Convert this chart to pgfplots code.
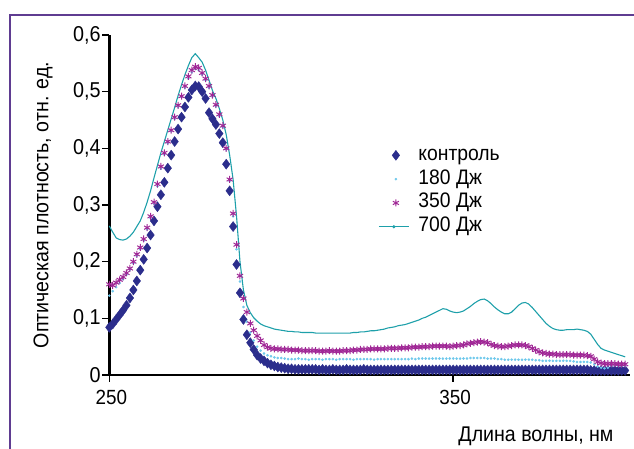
\documentclass[border=0pt]{standalone}
\usepackage{fontspec}
\setmainfont{Liberation Sans}[FakeStretch=0.92]
\usepackage{pgfplots}
\usepackage{pgfplotstable}
\pgfplotsset{compat=1.18}

\definecolor{frameviolet}{RGB}{95,60,145}
\definecolor{ctrl}{RGB}{43,45,140}
\definecolor{j180}{RGB}{110,200,235}
\definecolor{j350}{RGB}{160,40,150}
\definecolor{j700}{RGB}{30,160,170}

% wavelength (nm) and optical density: control, 180 J, 350 J, 700 J
\pgfplotstableread{
x C L M T
250 0.084 0.140 0.160 0.263
251 0.090 0.148 0.158 0.252
252 0.098 0.155 0.163 0.242
253 0.106 0.162 0.168 0.239
254 0.114 0.169 0.173 0.238
255 0.123 0.177 0.180 0.240
256 0.136 0.186 0.188 0.245
257 0.150 0.197 0.200 0.252
258 0.166 0.210 0.213 0.262
259 0.185 0.222 0.225 0.272
260 0.204 0.237 0.240 0.287
261 0.224 0.257 0.260 0.305
262 0.247 0.277 0.280 0.325
263 0.272 0.302 0.305 0.348
264 0.297 0.333 0.337 0.370
265 0.318 0.364 0.368 0.392
266 0.340 0.389 0.392 0.412
267 0.365 0.409 0.412 0.432
268 0.388 0.430 0.432 0.452
269 0.412 0.452 0.455 0.472
270 0.434 0.473 0.476 0.493
271 0.455 0.490 0.492 0.512
272 0.473 0.507 0.510 0.530
273 0.490 0.523 0.527 0.546
274 0.503 0.534 0.538 0.560
275 0.510 0.540 0.544 0.567
276 0.509 0.538 0.542 0.560
277 0.500 0.530 0.533 0.552
278 0.488 0.520 0.523 0.538
279 0.463 0.507 0.510 0.520
280 0.452 0.491 0.494 0.502
281 0.442 0.474 0.477 0.488
282 0.426 0.457 0.460 0.470
283 0.410 0.437 0.440 0.450
284 0.372 0.398 0.400 0.424
285 0.325 0.342 0.345 0.388
286 0.262 0.280 0.285 0.345
287 0.195 0.222 0.230 0.280
288 0.145 0.165 0.175 0.200
289 0.098 0.120 0.135 0.150
290 0.071 0.094 0.111 0.123
291 0.057 0.075 0.091 0.110
292 0.045 0.061 0.079 0.101
293 0.035 0.050 0.069 0.095
294 0.029 0.043 0.061 0.090
295 0.025 0.038 0.053 0.087
296 0.021 0.035 0.049 0.085
297 0.018 0.033 0.047 0.083
298 0.016 0.031 0.046 0.081
299 0.014 0.030 0.046 0.080
300 0.013 0.030 0.045 0.079
301 0.012 0.029 0.045 0.078
302 0.011 0.028 0.045 0.077
303 0.011 0.028 0.044 0.077
304 0.010 0.028 0.044 0.076
305 0.010 0.029 0.044 0.076
306 0.010 0.028 0.043 0.075
307 0.010 0.028 0.043 0.075
308 0.010 0.027 0.043 0.075
309 0.010 0.028 0.043 0.075
310 0.010 0.028 0.043 0.074
311 0.009 0.028 0.042 0.074
312 0.010 0.027 0.042 0.074
313 0.009 0.028 0.042 0.074
314 0.009 0.028 0.043 0.074
315 0.010 0.028 0.042 0.074
316 0.009 0.027 0.042 0.074
317 0.009 0.028 0.042 0.074
318 0.009 0.028 0.043 0.074
319 0.010 0.028 0.043 0.074
320 0.009 0.028 0.043 0.074
321 0.009 0.027 0.044 0.075
322 0.009 0.028 0.044 0.075
323 0.009 0.028 0.045 0.076
324 0.010 0.028 0.045 0.076
325 0.009 0.028 0.045 0.077
326 0.009 0.028 0.046 0.078
327 0.009 0.027 0.046 0.078
328 0.009 0.028 0.046 0.079
329 0.009 0.028 0.046 0.080
330 0.009 0.028 0.046 0.081
331 0.009 0.028 0.047 0.083
332 0.009 0.028 0.047 0.084
333 0.009 0.028 0.047 0.085
334 0.009 0.028 0.047 0.087
335 0.009 0.028 0.048 0.088
336 0.009 0.028 0.048 0.089
337 0.009 0.028 0.048 0.091
338 0.009 0.029 0.049 0.093
339 0.009 0.028 0.049 0.095
340 0.009 0.029 0.049 0.097
341 0.009 0.029 0.050 0.100
342 0.009 0.029 0.050 0.102
343 0.009 0.029 0.050 0.105
344 0.009 0.029 0.051 0.108
345 0.009 0.029 0.051 0.111
346 0.009 0.029 0.051 0.114
347 0.009 0.029 0.051 0.117
348 0.009 0.029 0.051 0.116
349 0.009 0.029 0.050 0.113
350 0.009 0.029 0.051 0.111
351 0.009 0.029 0.052 0.110
352 0.009 0.029 0.052 0.111
353 0.009 0.029 0.053 0.113
354 0.009 0.029 0.055 0.117
355 0.009 0.030 0.056 0.121
356 0.009 0.030 0.057 0.126
357 0.009 0.030 0.058 0.130
358 0.009 0.030 0.059 0.133
359 0.009 0.030 0.058 0.134
360 0.009 0.029 0.057 0.131
361 0.009 0.029 0.054 0.126
362 0.009 0.029 0.052 0.120
363 0.009 0.028 0.051 0.115
364 0.009 0.028 0.050 0.111
365 0.009 0.027 0.050 0.108
366 0.009 0.027 0.051 0.108
367 0.009 0.027 0.052 0.111
368 0.009 0.027 0.053 0.117
369 0.009 0.027 0.053 0.123
370 0.009 0.027 0.053 0.127
371 0.009 0.027 0.052 0.128
372 0.009 0.027 0.050 0.125
373 0.009 0.027 0.047 0.119
374 0.009 0.026 0.044 0.112
375 0.009 0.026 0.041 0.105
376 0.009 0.025 0.039 0.098
377 0.009 0.025 0.038 0.091
378 0.009 0.025 0.037 0.086
379 0.009 0.025 0.037 0.082
380 0.009 0.025 0.036 0.080
381 0.009 0.025 0.036 0.079
382 0.009 0.025 0.036 0.079
383 0.009 0.025 0.036 0.080
384 0.009 0.025 0.036 0.080
385 0.009 0.024 0.035 0.080
386 0.009 0.023 0.035 0.081
387 0.009 0.023 0.035 0.080
388 0.009 0.023 0.035 0.079
389 0.009 0.023 0.034 0.077
390 0.008 0.022 0.033 0.072
391 0.008 0.019 0.028 0.063
392 0.008 0.015 0.023 0.054
393 0.008 0.013 0.021 0.047
394 0.008 0.012 0.020 0.044
395 0.008 0.013 0.020 0.042
396 0.008 0.016 0.020 0.040
397 0.008 0.017 0.020 0.038
398 0.008 0.016 0.019 0.036
399 0.008 0.016 0.019 0.034
400 0.008 0.016 0.019 0.032
}\spectra

\pgfplotsset{
  dot key/.style={legend image code/.code={%
    \draw[##1] plot coordinates {(17pt,0pt)};}},
  curve key/.style={legend image code/.code={%
    \draw[##1] (0pt,0pt) -- (30pt,0pt);
    \fill[j700] (15pt,0pt) circle (1pt);}},
}

\newcommand{\labelfont}{\fontsize{21.3}{25}\selectfont}

\begin{document}
\begin{tikzpicture}
\useasboundingbox (0,0) rectangle (634pt,449pt);
% violet frame (top and left edges)
\draw[frameviolet, line width=2.7pt, line join=miter] (10pt,-2pt) -- (10pt,434pt) -- (636pt,434pt);
\begin{axis}[
  at={(109.3pt,74pt)}, anchor=south west,
  scale only axis, width=521pt, height=340pt,
  xmin=250, xmax=401.5, ymin=0, ymax=0.6,
  axis x line*=bottom, axis y line*=left,
  axis line style={line width=2.6pt, black},
  xtick={250,350}, ytick={0,0.1,0.2,0.3,0.4,0.5,0.6},
  tick align=outside, major tick length=7pt,
  tick style={line width=1.6pt, black},
  /pgf/number format/assume math mode=true,
  scaled y ticks=false,
  tick label style={font=\fontsize{20.5}{24}\selectfont, inner sep=1.5pt},
  yticklabel style={font=\fontsize{21.5}{24}\selectfont,
    /pgf/number format/.cd, fixed, precision=1, use comma},
  xticklabel style={yshift=-6pt, xshift=2pt},
  every axis x label/.style={at={(axis description cs:0.9745,-0.197)}, anchor=base east, font=\labelfont},
  every axis y label/.style={at={(axis description cs:-0.117,0.5)}, rotate=90, anchor=base, font=\labelfont},
  xlabel={Длина волны, нм},
  ylabel={Оптическая плотность, отн. ед.},
  clip=false,
  legend style={at={(rel axis cs:0.516,0.679)}, anchor=north west,
    draw=none, fill=none, inner sep=0pt, row sep=1.8pt,
    font=\fontsize{21}{25}\selectfont,
    nodes={inner sep=2pt, text height=14pt, text depth=4pt},
    /tikz/every odd column/.append style={column sep=7pt}},
  legend cell align=left,
]
\addplot[only marks, mark=diamond*, mark size=5pt, color=ctrl, dot key]
  table[x=x, y=C] {\spectra};
\addlegendentry{контроль}
\addplot[only marks, mark=*, mark size=1.1pt, color=j180, dot key]
  table[x=x, y=L] {\spectra};
\addlegendentry{180 Дж}
\addplot[only marks, mark=asterisk, mark size=3.5pt, color=j350, mark options={line width=1pt}, dot key]
  table[x=x, y=M] {\spectra};
\addlegendentry{350 Дж}
\addplot[no marks, color=j700, line width=1.1pt, curve key]
  table[x=x, y=T] {\spectra};
\addlegendentry{700 Дж}
\end{axis}
\end{tikzpicture}
\end{document}
